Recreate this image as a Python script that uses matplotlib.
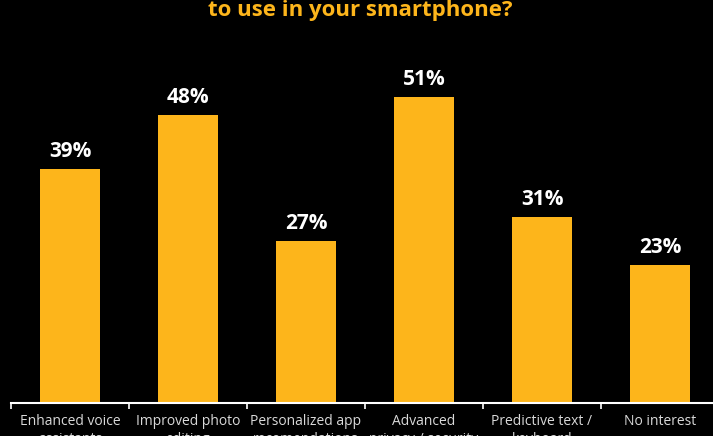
import numpy as np
import matplotlib.pyplot as plt

categories = ['Enhanced voice\nassistants', 'Improved photo\nediting', 'Personalized app\nrecomendations',
              'Advanced\nprivacy / security', 'Predictive text /\nkeyboard', 'No interest']
values = [39, 48, 27, 51, 31, 23]

orange = '#FDB51B'
plt.rcParams['font.family'] = ['Open Sans', 'DejaVu Sans']

fig = plt.figure(figsize=(7.13, 4.36), dpi=100, facecolor='black')
# axis runs slightly past the right edge, as in the cropped original
ax = fig.add_axes([11/713, 33/436, 708/713, 360/436], facecolor='black')

x = np.arange(len(categories))
bars = ax.bar(x, values, width=0.51, color=orange)

for xi, v in zip(x, values):
    ax.annotate(f'{v}%', (xi, v), xytext=(0, 8.5), textcoords='offset points',
                ha='center', va='baseline', color='white', fontsize=15, fontweight='bold')

ax.set_xlim(-0.5, len(categories) - 0.5)
ax.set_ylim(0, 60)
ax.set_yticks([])
for s in ['top', 'right', 'left']:
    ax.spines[s].set_visible(False)
ax.spines['bottom'].set_color('white')
ax.spines['bottom'].set_linewidth(1.5)

ax.set_xticks(x)
ax.set_xticklabels(categories, color='#d9d9d9', fontsize=10, linespacing=1.25)
ax.tick_params(axis='x', which='major', length=0, pad=8)
ax.set_xticks(np.arange(-0.5, len(categories)), minor=True)
ax.tick_params(axis='x', which='minor', length=4, width=1.2, color='white', direction='out')

fig.text(360/713, 1 - 16/436, 'to use in your smartphone?', ha='center', va='baseline',
         color=orange, fontsize=16, fontweight='bold')

fig.savefig('out.png', dpi=100, facecolor='black')
